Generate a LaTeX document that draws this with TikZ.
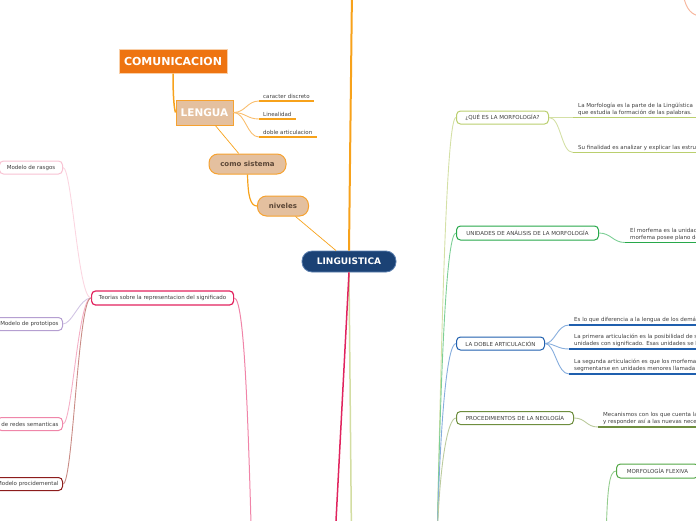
\documentclass[tikz,border=0pt]{standalone}
\usepackage{fontspec}
\setmainfont{DejaVu Sans}
\usetikzlibrary{positioning}

\definecolor{lingblue}{HTML}{1B4275}
\definecolor{lingedge}{HTML}{5C80B0}
\definecolor{comorange}{HTML}{EE7411}
\definecolor{compeach}{HTML}{F9CFA8}
\definecolor{tanfill}{HTML}{E4C09F}
\definecolor{orangeedge}{HTML}{F6A230}
\definecolor{orangelink}{HTML}{F7A21B}
\definecolor{browntxt}{HTML}{5B4636}
\definecolor{txtgray}{HTML}{3F3F3F}
\definecolor{quecol}{HTML}{BACF6E}
\definecolor{queline}{HTML}{D4E0A6}
\definecolor{unicol}{HTML}{27A84A}
\definecolor{uniline}{HTML}{7DCF96}
\definecolor{dobcol}{HTML}{1F5FAE}
\definecolor{dobline}{HTML}{86ADDD}
\definecolor{procol}{HTML}{6E8E3E}
\definecolor{proline}{HTML}{BCCB9E}
\definecolor{flexcol}{HTML}{52A744}
\definecolor{flexline}{HTML}{94CC8E}
\definecolor{teocol}{HTML}{E2235E}
\definecolor{teoline}{HTML}{F084A8}
\definecolor{rascol}{HTML}{F8C3D3}
\definecolor{rasline}{HTML}{FBD6E1}
\definecolor{protcol}{HTML}{B59FD1}
\definecolor{protline}{HTML}{D2C5E4}
\definecolor{redcol}{HTML}{EF86A9}
\definecolor{redline}{HTML}{F5AFC6}
\definecolor{proccol}{HTML}{8C1C1C}
\definecolor{procline}{HTML}{C98C86}
\definecolor{crimson}{HTML}{E0245E}
\definecolor{paleline}{HTML}{D3DDA2}
\definecolor{salmon}{HTML}{F7B8A0}

\begin{document}
\begin{tikzpicture}[x=1pt, y=-1pt,
    hub/.style={draw=lingedge, fill=lingblue, rounded corners=10pt, line width=0.8pt, minimum width=94pt, minimum height=21pt, inner sep=0pt, text=white, font=\bfseries\fontsize{9}{10}\selectfont},
    topic/.style={draw=compeach, fill=comorange, line width=1pt, minimum width=108pt, minimum height=24pt, inner sep=0pt, text=white, font=\bfseries\fontsize{11}{12}\selectfont},
    sub/.style={draw=orangeedge, fill=tanfill, line width=1pt, minimum width=57pt, minimum height=25pt, inner sep=0pt, text=white, font=\bfseries\fontsize{10.5}{12}\selectfont},
    pill/.style={draw=orangeedge, fill=tanfill, rounded corners=9pt, line width=1pt, minimum height=20pt, inner sep=0pt, text=browntxt, font=\bfseries\fontsize{7}{8}\selectfont},
    leaf/.style={draw, fill=white, rounded corners=4pt, line width=1pt, minimum height=13pt, inner xsep=5pt, inner ysep=0pt, text=txtgray, font=\fontsize{5.5}{6}\selectfont},
    desc/.style={anchor=south west, align=left, inner xsep=5pt, inner ysep=2pt, text=txtgray, font=\fontsize{5.5}{7}\selectfont},
    lchild/.style={anchor=south west, inner xsep=4pt, inner ysep=2pt, text=txtgray, font=\fontsize{5.5}{6.5}\selectfont},
    lnk/.style={line width=0.9pt},
    ul/.style={line width=1.4pt}
]
\useasboundingbox (0,0) rectangle (696,520);
\clip (0,0) rectangle (696,520);

\node[hub] (ling) at (349,261.5) {LINGUISTICA};
\node[topic] (com) at (173,61) {COMUNICACION};
\node[sub] (lengua) at (204.5,112.5) {LENGUA};
\node[pill, minimum width=77pt] (como) at (247.5,164) {como sistema};
\node[pill, minimum width=51pt] (niv) at (283,206) {niveles};

\node[lchild] (cd) at (259,101) {caracter discreto};
\node[lchild] (lin) at (259,119) {Linealidad};
\node[lchild] (da) at (259,137) {doble articulacion};

\node[leaf, draw=teocol, line width=1.2pt, anchor=west, minimum width=142pt, minimum height=14pt] (teo) at (91,298) {Teorias sobre la representacion del significado};
\node[leaf, draw=rascol, anchor=east, minimum width=63pt] (ras) at (63,167.5) {Modelo de rasgos};
\node[leaf, draw=protcol, anchor=east, inner xsep=4pt] (prot) at (63,324) {Modelo de prototipos};
\node[leaf, draw=redcol, anchor=east, inner xsep=4pt] (redes) at (63,424) {de redes semanticas};
\node[leaf, draw=proccol, anchor=east, inner xsep=4pt] (proc) at (63,484) {Modelo procidemental};

\node[leaf, draw=quecol, anchor=west, minimum width=92pt] (que) at (456,117.5) {¿QUÉ ES LA MORFOLOGÍA?};
\node[leaf, draw=unicol, anchor=west, minimum width=142pt, minimum height=14pt] (uni) at (456,233) {UNIDADES DE ANÁLISIS DE LA MORFOLOGÍA};
\node[leaf, draw=dobcol, anchor=west, minimum width=88pt] (dob) at (456,343.5) {LA DOBLE ARTICULACIÓN};
\node[leaf, draw=procol, anchor=west, minimum width=117pt] (neo) at (456,418) {PROCEDIMIENTOS DE LA NEOLOGÍA};
\node[leaf, draw=flexcol, anchor=west, minimum width=82pt, minimum height=14pt] (flex) at (616,471) {MORFOLOGÍA FLEXIVA};

\node[desc] (q1) at (573,117.5) {La Morfología es la parte de la Lingüística\\que estudia la formación de las palabras.};
\node[desc] (q2) at (573,152.5) {Su finalidad es analizar y explicar las estru};
\node[desc] (u1) at (625,242.5) {El morfema es la unidad\\morfema posee plano de};
\node[desc] (d1) at (569,325) {Es lo que diferencia a la lengua de los demá};
\node[desc] (d2) at (569,349) {La primera articulación es la posibilidad de s\\unidades con significado. Esas unidades se l};
\node[desc] (d3) at (569,374) {La segunda articulación es que los morfema\\segmentarse en unidades menores llamada};
\node[desc] (p1) at (598,427) {Mecanismos con los que cuenta la\\y responder así a las nuevas nece};

\coordinate (topoff) at (352,-10);
\coordinate (semoff) at (252,560);
\coordinate (lingoff) at (335,540);
\coordinate (paleoff) at (351.5,540);
\coordinate (morfoff) at (437,545);
\coordinate (flexoff) at (606,545);
\coordinate (tr1) at (683,-6);
\coordinate (tr2) at (700,16);

\draw[orangelink, line width=2pt] (ling.north) -- (topoff);
\draw[paleline, line width=1.5pt] (ling.south) -- (paleoff);
\draw[crimson, line width=1.5pt] (ling.south) -- (lingoff);
\draw[salmon, line width=1pt] (tr1) .. controls (686,10) and (692,15) .. (tr2);

\draw[orangelink, line width=1.5pt] (com.south) .. controls (173,95) and (174,108) .. (lengua.west);
\draw[orangelink, line width=0.7pt] (lengua) -- (como);
\draw[orangelink, line width=1.2pt] (como.south) .. controls (248,195) and (250,206) .. (niv.west);
\draw[orangelink, line width=0.7pt] (niv) -- (ling);

\draw[lnk, orangeedge!70] (lengua.east) .. controls +(12,0) and +(-12,0) .. (cd.south west);
\draw[lnk, orangeedge!70] (lengua.east) .. controls +(12,0) and +(-12,0) .. (lin.south west);
\draw[lnk, orangeedge!70] (lengua.east) .. controls +(12,0) and +(-12,0) .. (da.south west);
\draw[ul, orangelink] (cd.south west) -- (cd.south east);
\draw[ul, orangelink] (lin.south west) -- (lin.south east);
\draw[ul, orangelink] (da.south west) -- (da.south east);

\draw[teoline, line width=1pt] (teo.east) .. controls +(10,0) and +(-4,-150) .. (semoff);
\draw[lnk, rasline] (teo.west) .. controls (78,298) and (72,167.5) .. (ras.east);
\draw[lnk, protline] (teo.west) .. controls (80,298) and (72,324) .. (prot.east);
\draw[lnk, redline] (teo.west) .. controls (78,298) and (72,424) .. (redes.east);
\draw[lnk, procline] (teo.west) .. controls (78,298) and (73,484) .. (proc.east);

\draw[lnk, queline] (morfoff) .. controls (442,300) and (447,117.5) .. (que.west);
\draw[lnk, uniline] (morfoff) .. controls (441,350) and (447,233) .. (uni.west);
\draw[lnk, dobline] (morfoff) .. controls (440,420) and (447,343.5) .. (dob.west);
\draw[lnk, proline] (morfoff) .. controls (439,470) and (447,418) .. (neo.west);
\draw[lnk, flexline] (flexoff) .. controls (607,490) and (609,471) .. (flex.west);

\draw[lnk, queline] (que.east) .. controls +(12,0) and +(-12,0) .. (q1.south west);
\draw[lnk, queline] (que.east) .. controls +(12,0) and +(-12,0) .. (q2.south west);
\draw[lnk, uniline] (uni.east) .. controls +(12,0) and +(-12,0) .. (u1.south west);
\draw[lnk, dobline] (dob.east) .. controls +(10,0) and +(-12,0) .. (d1.south west);
\draw[lnk, dobline] (dob.east) .. controls +(10,0) and +(-12,0) .. (d2.south west);
\draw[lnk, dobline] (dob.east) .. controls +(10,0) and +(-12,0) .. (d3.south west);
\draw[lnk, proline] (neo.east) .. controls +(12,0) and +(-12,0) .. (p1.south west);

\draw[ul, quecol] (q1.south west) -- ++(140,0);
\draw[ul, quecol] (q2.south west) -- ++(140,0);
\draw[ul, unicol] (u1.south west) -- ++(100,0);
\draw[ul, dobcol] (d1.south west) -- ++(140,0);
\draw[ul, dobcol] (d2.south west) -- ++(140,0);
\draw[ul, dobcol] (d3.south west) -- ++(140,0);
\draw[ul, procol] (p1.south west) -- ++(120,0);
\end{tikzpicture}
\end{document}
